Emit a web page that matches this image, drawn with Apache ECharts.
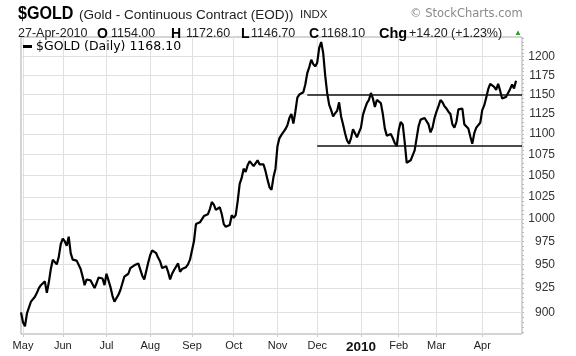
<!DOCTYPE html>
<html><head><meta charset="utf-8">
<script src="https://cdn.jsdelivr.net/npm/echarts@6/dist/echarts.min.js"></script>
<style>html,body{margin:0;padding:0;background:#fff}#c{width:576px;height:356px}</style>
</head><body><div id="c"></div>
<script>
// ---- calendar (trading days) ----
const startDate = '2009-04-30';
const endDate = '2010-04-30';
const holidays = ['2009-05-25','2009-07-03','2009-09-07','2009-11-26','2009-12-25','2010-01-01','2010-01-18','2010-02-15','2010-04-02'];
// ---- daily closes, 30-Apr-2009 .. 27-Apr-2010 ----
const closes = [
900,890,886,899,905,911,912,916,920,925,
928,930,932,920,931,945,955,957,950,958,
972,978,975,970,980,962,955,953,954,954,
945,937,928,934,936,933,929,925,930,936,
938,935,928,940,933,926,917,911,912,918,
923,930,937,936,940,946,948,949,950,951,
951,938,934,932,952,960,965,964,962,957,
953,946,948,948,942,934,940,944,943,951,
942,945,947,947,950,955,955,975,994,996,
996,994,1003,1003,1005,1011,1019,1016,1010,1008,
1013,1005,994,991,990,993,1004,1001,1004,1020,
1040,1047,1058,1054,1062,1067,1065,1061,1060,1068,
1063,1065,1063,1055,1045,1036,1033,1048,1058,1085,
1095,1099,1098,1106,1111,1120,1125,1113,1128,1146,
1150,1152,1153,1163,1178,1186,1196,1190,1187,1192,
1212,1220,1205,1175,1152,1137,1130,1122,1126,1129,
1140,1122,1112,1101,1092,1088,1095,1106,1101,1096,
1102,1108,1124,1132,1139,1143,1152,1145,1134,1143,
1144,1139,1125,1107,1098,1098,1100,1095,1089,1085,
1105,1115,1112,1090,1065,1063,1068,1074,1080,1095,
1110,1118,1117,1120,1122,1112,1102,1108,1120,1128,
1135,1143,1140,1135,1132,1128,1125,1112,1108,1115,
1131,1130,1132,1112,1111,1107,1097,1088,1101,1108,
1106,1114,1130,1136,1146,1157,1164,1162,1160,1156,
1164,1155,1145,1143,1147,1152,1157,1163,1158,1168.1
];
const monthNames = ['Jan','Feb','Mar','Apr','May','Jun','Jul','Aug','Sep','Oct','Nov','Dec'];
const yTicks = [900,925,950,975,1000,1025,1050,1075,1100,1125,1150,1175,1200];
const yMinorStep = 5;
const yMin = 878.4, yMax = 1226.9;
// horizontal support / resistance lines: [start date, level]
const resistanceLine = ['2009-11-23', 1150];
const supportLine = ['2009-12-01', 1086];
const seriesName = '$GOLD (Daily) 1168.10';

// build trading-day categories
const dates = [];
(function(){
  const hs = new Set(holidays);
  let d = new Date(startDate + 'T00:00:00Z');
  const e = new Date(endDate + 'T00:00:00Z');
  while (d <= e) {
    const wd = d.getUTCDay();
    const s = d.toISOString().slice(0,10);
    if (wd !== 0 && wd !== 6 && !hs.has(s)) dates.push(s);
    d = new Date(d.getTime() + 86400000);
  }
})();
const monthStart = {};
for (let i = 1; i < dates.length; i++) {
  if (dates[i].slice(5,7) !== dates[i-1].slice(5,7)) {
    const m = +dates[i].slice(5,7);
    monthStart[i] = m === 1 ? '{y|' + dates[i].slice(0,4) + '}' : monthNames[m-1];
  }
}
const isMonth = (i) => monthStart.hasOwnProperty(i);
const lastCat = dates[dates.length - 1];
const minorTicks = [];
for (let v = Math.ceil(yMin / yMinorStep) * yMinorStep; v <= yMax; v += yMinorStep) minorTicks.push(v);

const chart = echarts.init(document.getElementById('c'), null, {renderer: 'canvas'});
const hdrFont = '"Liberation Sans", Arial, sans-serif';
function t(text, x, y, size, weight, color, family, sx) {
  return {type: 'text', x: x, y: y, silent: true, scaleX: sx || 1,
    style: {text: text, fill: color || '#111', font: (weight || 'normal') + ' ' + size + 'px ' + (family || hdrFont), verticalAlign: 'middle'}};
}
chart.setOption({
  animation: false,
  backgroundColor: '#fff',
  graphic: [
    t('$GOLD', 18, 14, 18.5, 'bold', '#000', null, 0.87),
    t('(Gold - Continuous Contract (EOD))', 79, 15, 13.5, 'normal', '#222'),
    t('INDX', 300, 15, 11.5, 'normal', '#222'),
    t('\u00A9 StockCharts.com', 410, 14, 11.5, 'normal', '#8a8a8a', '"DejaVu Sans", sans-serif'),
    t('27-Apr-2010', 18, 34, 12.5, 'normal', '#222'),
    t('O', 97, 34, 14, 'bold', '#000'),
    t('1154.00', 111, 34, 12.5, 'normal', '#222'),
    t('H', 171, 34, 14, 'bold', '#000'),
    t('1172.60', 186, 34, 12.5, 'normal', '#222'),
    t('L', 241, 34, 14, 'bold', '#000'),
    t('1146.70', 251, 34, 12.5, 'normal', '#222'),
    t('C', 309, 34, 14, 'bold', '#000'),
    t('1168.10', 321, 34, 12.5, 'normal', '#222'),
    t('Chg', 379, 34, 14.5, 'bold', '#000'),
    t('+14.20 (+1.23%)', 409, 34, 12.5, 'normal', '#222'),
    t('\u25B2', 514, 33, 8, 'normal', '#2e9e2e')
  ],
  legend: {
    data: [seriesName], left: 23, top: 40, padding: 0, itemWidth: 9, itemHeight: 3, icon: 'rect', itemGap: 4,
    textStyle: {fontFamily: '"DejaVu Sans", Verdana, sans-serif', fontSize: 12.5, color: '#000', padding: [0,0,0,-1]}
  },
  grid: {left: 21, right: 54, top: 37, bottom: 22, show: true, borderColor: '#aaa', borderWidth: 1, containLabel: false},
  xAxis: {
    type: 'category', data: dates, boundaryGap: false,
    axisLine: {show: false},
    axisTick: {show: true, length: 3, interval: (i) => isMonth(i), lineStyle: {color: '#ccc'}},
    splitLine: {show: true, interval: (i) => isMonth(i), lineStyle: {color: '#e0e0e0', width: 1}},
    axisLabel: {
      interval: (i) => isMonth(i), margin: 6,
      formatter: (v, i) => monthStart[i] || '',
      color: '#222', fontFamily: hdrFont, fontSize: 11,
      rich: {y: {fontWeight: 'bold', fontSize: 13.5, color: '#111', fontFamily: hdrFont}}
    }
  },
  yAxis: [{
    type: 'log', logBase: 10, position: 'right', min: yMin, max: yMax,
    axisLine: {show: false},
    axisTick: {show: false, customValues: yTicks},
    splitLine: {show: true, lineStyle: {color: '#e0e0e0', width: 1}},
    axisLabel: {customValues: yTicks, align: 'right', margin: 33, color: '#333', fontFamily: hdrFont, fontSize: 12,
      formatter: (v) => String(Math.round(v))}
  }, {
    type: 'log', logBase: 10, position: 'right', min: yMin, max: yMax,
    axisLine: {show: false}, splitLine: {show: false},
    axisLabel: {show: false, customValues: yTicks},
    axisTick: {show: true, inside: false, length: 2, customValues: minorTicks, lineStyle: {color: '#bbb'}}
  }],
  series: [{
    name: seriesName, type: 'line', data: closes, symbol: 'none', silent: true,
    lineStyle: {color: '#000', width: 2.2}, itemStyle: {color: '#000'},
    markLine: {
      silent: true, symbol: 'none', label: {show: false},
      lineStyle: {color: '#111', width: 1.6, type: 'solid'},
      data: [
        [{coord: [resistanceLine[0], resistanceLine[1]]}, {coord: [lastCat, resistanceLine[1]]}],
        [{coord: [supportLine[0], supportLine[1]]}, {coord: [lastCat, supportLine[1]]}]
      ]
    }
  }]
});
</script></body></html>
